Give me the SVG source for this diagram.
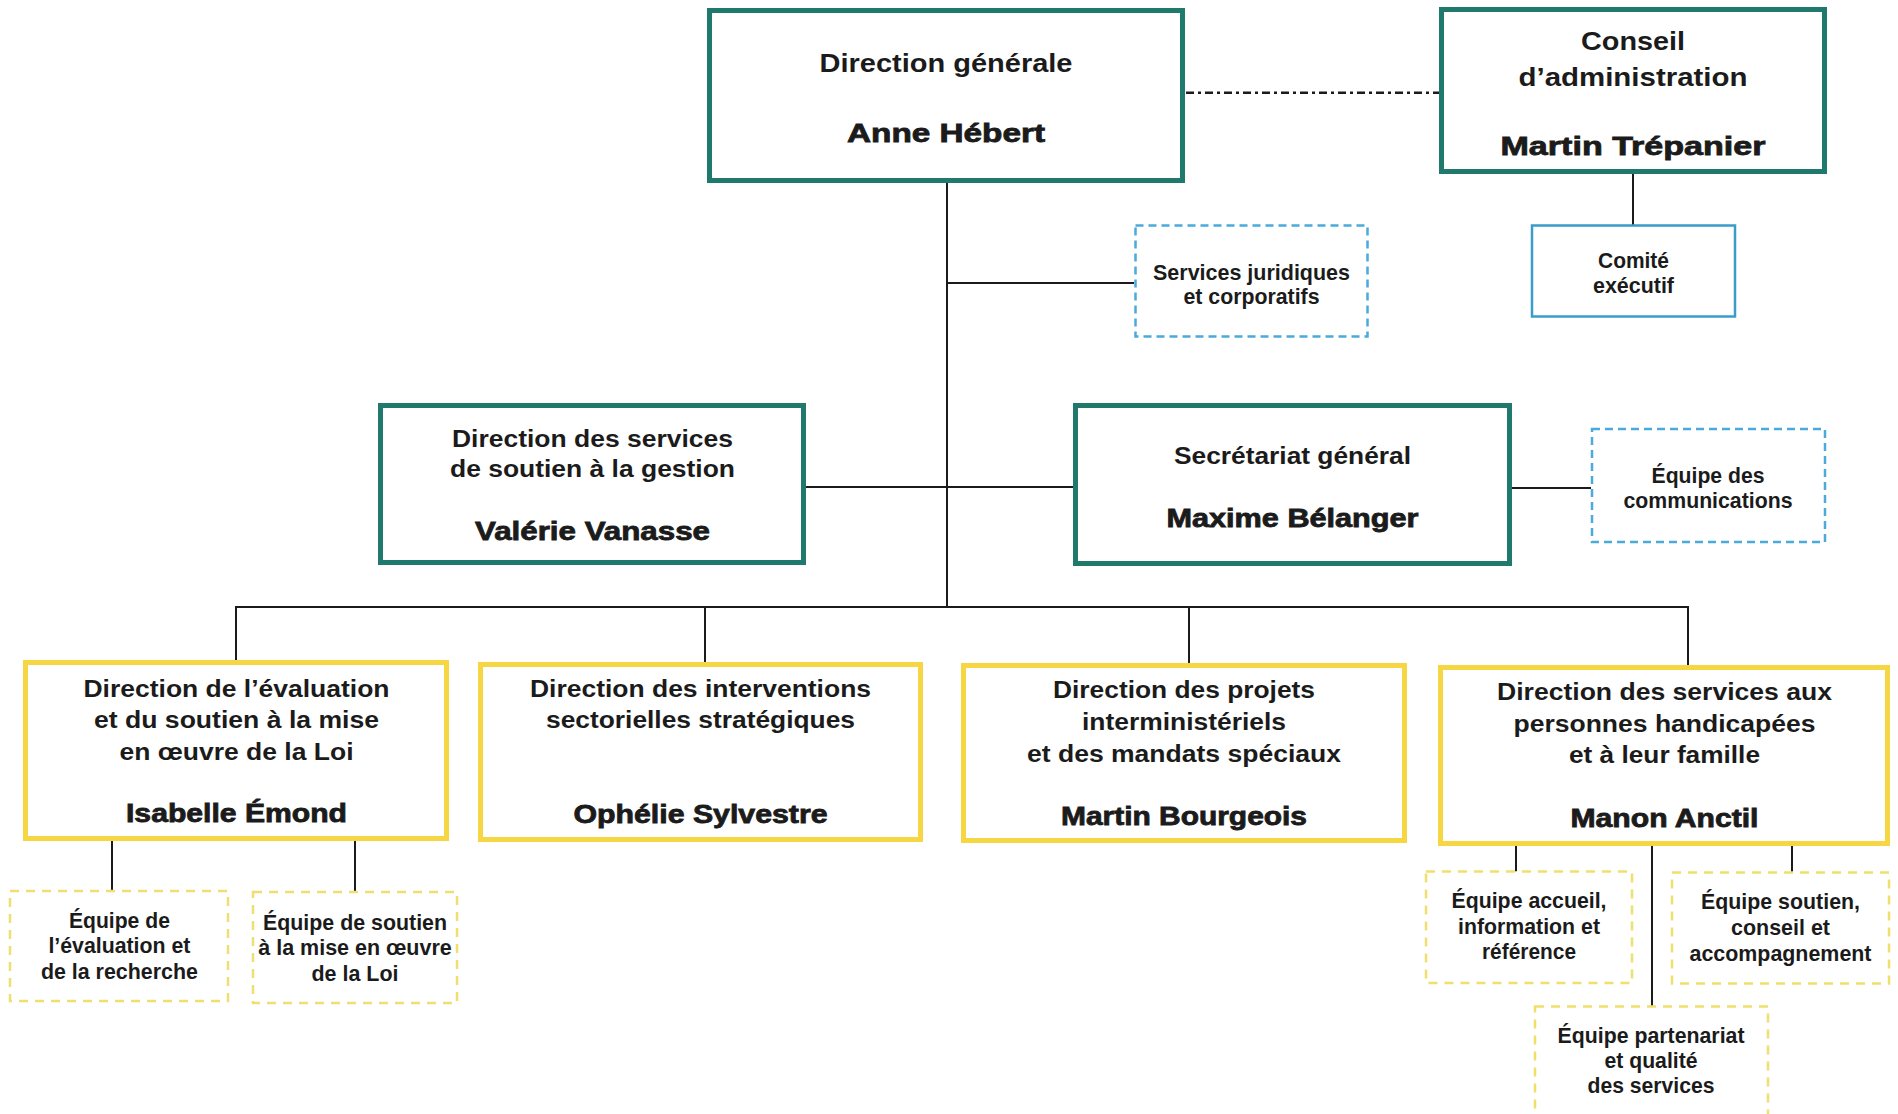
<svg xmlns="http://www.w3.org/2000/svg" width="1898" height="1114" viewBox="0 0 1898 1114">
<style>
  text { font-family: "Liberation Sans", Arial, Helvetica, sans-serif; fill: #1b1b1b; text-anchor: middle; }
  .top { font-size: 25.5px; font-weight: 700; }
  .dir { font-size: 23.5px; font-weight: 700; }
  .nameTop { font-size: 25.5px; font-weight: 700; stroke: #1b1b1b; stroke-width: 0.8px; }
  .name { font-size: 25px; font-weight: 700; stroke: #1b1b1b; stroke-width: 0.8px; }
  .sub { font-size: 21.5px; font-weight: 700; }
  .teal { fill: #ffffff; stroke: #1f7a6d; stroke-width: 5; }
  .yel { fill: #ffffff; stroke: #f6d743; stroke-width: 5; }
  .thin { fill: #ffffff; stroke: #3a9cc8; stroke-width: 2.5; }
  .bdash { fill: #ffffff; stroke: #4aaadc; stroke-width: 2.5; stroke-dasharray: 8 5; }
  .ydash { fill: #ffffff; stroke: #f0df6c; stroke-width: 2.5; stroke-dasharray: 9 7; }
  .conn line { stroke: #1b1b1b; stroke-width: 2; fill: none; }
  .conn .dashdot { stroke-width: 2.5; stroke-dasharray: 8 4 3 4; }
</style>
<rect x="0" y="0" width="1898" height="1114" fill="#ffffff"/>

<g id="connectors" class="conn">
  <line class="dashdot" x1="1186" y1="92.7" x2="1439" y2="92.7"/>
  <line x1="1633" y1="174" x2="1633" y2="225"/>
  <line x1="947" y1="183" x2="947" y2="607"/>
  <line x1="947" y1="283" x2="1134" y2="283"/>
  <line x1="806" y1="487" x2="1073" y2="487"/>
  <line x1="1512" y1="488" x2="1591" y2="488"/>
  <line x1="235" y1="607" x2="1689" y2="607"/>
  <line x1="236" y1="606" x2="236" y2="660"/>
  <line x1="705" y1="606" x2="705" y2="662"/>
  <line x1="1189" y1="606" x2="1189" y2="663"/>
  <line x1="1688" y1="606" x2="1688" y2="665"/>
  <line x1="112" y1="841" x2="112" y2="891"/>
  <line x1="355" y1="841" x2="355" y2="892"/>
  <line x1="1516" y1="846" x2="1516" y2="871.5"/>
  <line x1="1792" y1="846" x2="1792" y2="872.5"/>
  <line x1="1652" y1="846" x2="1652" y2="1006.5"/>
</g>

<g id="direction-generale">
  <rect class="teal" x="709.5" y="10.5" width="473" height="170"/>
  <text class="top" x="946" y="71.7" textLength="253" lengthAdjust="spacingAndGlyphs">Direction générale</text>
  <text class="nameTop" x="946" y="141.7" textLength="198" lengthAdjust="spacingAndGlyphs">Anne Hébert</text>
</g>

<g id="conseil-administration">
  <rect class="teal" x="1441.5" y="9.5" width="383" height="162"/>
  <text class="top" x="1633" y="50" textLength="104" lengthAdjust="spacingAndGlyphs">Conseil</text>
  <text class="top" x="1633" y="85.5" textLength="229" lengthAdjust="spacingAndGlyphs">d’administration</text>
  <text class="nameTop" x="1633" y="155" textLength="265" lengthAdjust="spacingAndGlyphs">Martin Trépanier</text>
</g>

<g id="comite-executif">
  <rect class="thin" x="1532" y="225.5" width="203" height="91"/>
  <text class="sub" x="1633.5" y="268.3" textLength="71" lengthAdjust="spacingAndGlyphs">Comité</text>
  <text class="sub" x="1633.5" y="293.3" textLength="81" lengthAdjust="spacingAndGlyphs">exécutif</text>
</g>

<g id="services-juridiques">
  <rect class="bdash" x="1135.5" y="225.5" width="232" height="111"/>
  <text class="sub" x="1251.5" y="280" textLength="197" lengthAdjust="spacingAndGlyphs">Services juridiques</text>
  <text class="sub" x="1251.5" y="303.5" textLength="136" lengthAdjust="spacingAndGlyphs">et corporatifs</text>
</g>

<g id="direction-soutien-gestion">
  <rect class="teal" x="380.5" y="405.5" width="423" height="157"/>
  <text class="dir" x="592.5" y="446.7" textLength="281" lengthAdjust="spacingAndGlyphs">Direction des services</text>
  <text class="dir" x="592.5" y="477.3" textLength="285" lengthAdjust="spacingAndGlyphs">de soutien à la gestion</text>
  <text class="name" x="592.5" y="540" textLength="235" lengthAdjust="spacingAndGlyphs">Valérie Vanasse</text>
</g>

<g id="secretariat-general">
  <rect class="teal" x="1075.5" y="405.5" width="434" height="158"/>
  <text class="dir" x="1292.5" y="464" textLength="237" lengthAdjust="spacingAndGlyphs">Secrétariat général</text>
  <text class="name" x="1292.5" y="526.7" textLength="252" lengthAdjust="spacingAndGlyphs">Maxime Bélanger</text>
</g>

<g id="equipe-communications">
  <rect class="bdash" x="1592" y="429" width="233" height="113"/>
  <text class="sub" x="1708" y="483.3" textLength="113" lengthAdjust="spacingAndGlyphs">Équipe des</text>
  <text class="sub" x="1708" y="508.3" textLength="169" lengthAdjust="spacingAndGlyphs">communications</text>
</g>

<g id="direction-evaluation">
  <rect class="yel" x="25.5" y="662.5" width="421" height="176"/>
  <text class="dir" x="236.5" y="696.5" textLength="306" lengthAdjust="spacingAndGlyphs">Direction de l’évaluation</text>
  <text class="dir" x="236.5" y="727.7" textLength="285" lengthAdjust="spacingAndGlyphs">et du soutien à la mise</text>
  <text class="dir" x="236.5" y="759.5" textLength="234" lengthAdjust="spacingAndGlyphs">en œuvre de la Loi</text>
  <text class="name" x="236.5" y="822" textLength="221" lengthAdjust="spacingAndGlyphs">Isabelle Émond</text>
</g>

<g id="direction-interventions">
  <rect class="yel" x="480.5" y="664.5" width="440" height="175"/>
  <text class="dir" x="700.5" y="696.7" textLength="341" lengthAdjust="spacingAndGlyphs">Direction des interventions</text>
  <text class="dir" x="700.5" y="728.3" textLength="309" lengthAdjust="spacingAndGlyphs">sectorielles stratégiques</text>
  <text class="name" x="700.5" y="822.7" textLength="254" lengthAdjust="spacingAndGlyphs">Ophélie Sylvestre</text>
</g>

<g id="direction-projets">
  <rect class="yel" x="963.5" y="665.5" width="441" height="175"/>
  <text class="dir" x="1184" y="698.3" textLength="262" lengthAdjust="spacingAndGlyphs">Direction des projets</text>
  <text class="dir" x="1184" y="730" textLength="204" lengthAdjust="spacingAndGlyphs">interministériels</text>
  <text class="dir" x="1184" y="761.7" textLength="314" lengthAdjust="spacingAndGlyphs">et des mandats spéciaux</text>
  <text class="name" x="1184" y="825" textLength="246" lengthAdjust="spacingAndGlyphs">Martin Bourgeois</text>
</g>

<g id="direction-services-personnes">
  <rect class="yel" x="1440.5" y="667.5" width="447" height="176"/>
  <text class="dir" x="1664.5" y="700" textLength="335" lengthAdjust="spacingAndGlyphs">Direction des services aux</text>
  <text class="dir" x="1664.5" y="731.7" textLength="302" lengthAdjust="spacingAndGlyphs">personnes handicapées</text>
  <text class="dir" x="1664.5" y="763.3" textLength="191" lengthAdjust="spacingAndGlyphs">et à leur famille</text>
  <text class="name" x="1664.5" y="827.3" textLength="188" lengthAdjust="spacingAndGlyphs">Manon Anctil</text>
</g>

<g id="equipe-evaluation-recherche">
  <rect class="ydash" x="10" y="891" width="218" height="110"/>
  <text class="sub" x="119.4" y="928" textLength="101" lengthAdjust="spacingAndGlyphs">Équipe de</text>
  <text class="sub" x="119.4" y="953" textLength="142" lengthAdjust="spacingAndGlyphs">l’évaluation et</text>
  <text class="sub" x="119.4" y="978.8" textLength="157" lengthAdjust="spacingAndGlyphs">de la recherche</text>
</g>

<g id="equipe-soutien-loi">
  <rect class="ydash" x="253" y="892" width="204" height="111"/>
  <text class="sub" x="355" y="929.5" textLength="184" lengthAdjust="spacingAndGlyphs">Équipe de soutien</text>
  <text class="sub" x="355" y="955.3" textLength="193.5" lengthAdjust="spacingAndGlyphs">à la mise en œuvre</text>
  <text class="sub" x="355" y="980.8" textLength="87" lengthAdjust="spacingAndGlyphs">de la Loi</text>
</g>

<g id="equipe-accueil">
  <rect class="ydash" x="1426" y="871.5" width="206" height="111.5"/>
  <text class="sub" x="1529" y="908.3" textLength="155" lengthAdjust="spacingAndGlyphs">Équipe accueil,</text>
  <text class="sub" x="1529" y="934" textLength="142" lengthAdjust="spacingAndGlyphs">information et</text>
  <text class="sub" x="1529" y="959.3" textLength="94" lengthAdjust="spacingAndGlyphs">référence</text>
</g>

<g id="equipe-soutien-conseil">
  <rect class="ydash" x="1672" y="872.5" width="217" height="111"/>
  <text class="sub" x="1780.5" y="909.3" textLength="159" lengthAdjust="spacingAndGlyphs">Équipe soutien,</text>
  <text class="sub" x="1780.5" y="935" textLength="99" lengthAdjust="spacingAndGlyphs">conseil et</text>
  <text class="sub" x="1780.5" y="960.7" textLength="182" lengthAdjust="spacingAndGlyphs">accompagnement</text>
</g>

<g id="equipe-partenariat">
  <rect class="ydash" x="1535" y="1006.5" width="233" height="130"/>
  <text class="sub" x="1651" y="1043.3" textLength="187" lengthAdjust="spacingAndGlyphs">Équipe partenariat</text>
  <text class="sub" x="1651" y="1068.3" textLength="93" lengthAdjust="spacingAndGlyphs">et qualité</text>
  <text class="sub" x="1651" y="1093.3" textLength="127" lengthAdjust="spacingAndGlyphs">des services</text>
</g>
</svg>
